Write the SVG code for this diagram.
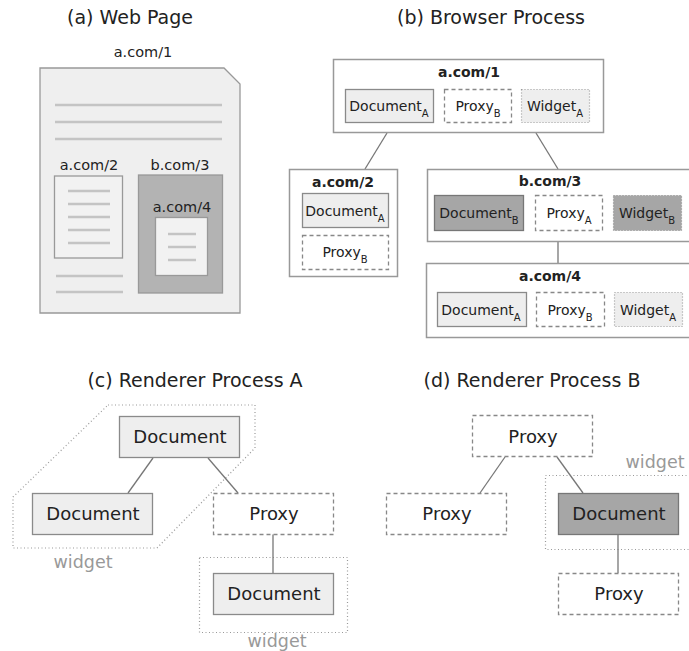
<svg xmlns="http://www.w3.org/2000/svg" width="689" height="651" viewBox="0 0 689 651">
<style>
text{font-family:"DejaVu Sans","Liberation Sans",sans-serif;fill:#222}
.title{font-size:19px;text-anchor:middle}
.lbl{font-size:14.5px;text-anchor:middle}
.bold{font-size:14px;font-weight:bold;text-anchor:middle}
.sm{font-size:14px;text-anchor:middle}
.sub{font-size:10px}
.big{font-size:18px;text-anchor:middle}
.wg{font-size:17.5px;fill:#999;text-anchor:middle}
.cont{fill:#fff;stroke:#999;stroke-width:1.5}
.doc{fill:#eeeeee;stroke:#8a8a8a;stroke-width:1.3}
.docd{fill:#a6a6a6;stroke:#777;stroke-width:1.3}
.proxy{fill:#fff;stroke:#888;stroke-width:1.3;stroke-dasharray:4,3}
.wid{fill:#eeeeee;stroke:#999;stroke-width:1.2;stroke-dasharray:1,2}
.widd{fill:#a6a6a6;stroke:#888;stroke-width:1.2;stroke-dasharray:1,2}
.wgrp{fill:none;stroke:#999;stroke-width:1.2;stroke-dasharray:1,2.5}
.tl{stroke:#c4c4c4;stroke-width:2.5}
.conn line{stroke:#777;stroke-width:1.3}
</style>

<!-- (a) Web Page -->
<g id="panel-a">
<text class="title" x="130" y="24">(a) Web Page</text>
<text class="lbl" x="143" y="57">a.com/1</text>
<path d="M40,68 H224 L240,84 V313 H40 Z" fill="#efefef" stroke="#999" stroke-width="1.3"/>
<line class="tl" x1="55" y1="105" x2="222" y2="105"/>
<line class="tl" x1="55" y1="122" x2="222" y2="122"/>
<line class="tl" x1="55" y1="139" x2="222" y2="139"/>
<text class="lbl" x="89" y="170">a.com/2</text>
<text class="lbl" x="180" y="170">b.com/3</text>
<rect x="54.5" y="176" width="68" height="82" fill="#f2f2f2" stroke="#999" stroke-width="1.3"/>
<line class="tl" x1="68" y1="191" x2="110" y2="191"/>
<line class="tl" x1="68" y1="204" x2="110" y2="204"/>
<line class="tl" x1="68" y1="217" x2="110" y2="217"/>
<line class="tl" x1="68" y1="230" x2="110" y2="230"/>
<line class="tl" x1="68" y1="243" x2="110" y2="243"/>
<line class="tl" x1="56" y1="276" x2="123" y2="276"/>
<line class="tl" x1="56" y1="292" x2="123" y2="292"/>
<rect x="138.5" y="175" width="84" height="118" fill="#b3b3b3" stroke="#999" stroke-width="1.3"/>
<text class="lbl" x="182" y="212">a.com/4</text>
<rect x="155.5" y="217.5" width="52" height="58" fill="#f2f2f2" stroke="#999" stroke-width="1.3"/>
<line class="tl" x1="168" y1="234" x2="196" y2="234"/>
<line class="tl" x1="168" y1="247" x2="196" y2="247"/>
<line class="tl" x1="168" y1="260" x2="196" y2="260"/>
</g>

<!-- (b) Browser Process -->
<text class="title" x="491" y="24">(b) Browser Process</text>
<g class="conn" id="connectors-b">
<line x1="387" y1="133" x2="365" y2="169"/>
<line x1="536" y1="133" x2="558" y2="169"/>
<line x1="558" y1="242" x2="558" y2="263"/>
</g>
<g id="b-a1">
<rect class="cont" x="333.5" y="59.5" width="270" height="73"/>
<text class="bold" x="469" y="77">a.com/1</text>
<rect class="doc" x="345.5" y="89.5" width="88" height="33"/>
<text class="sm" x="389" y="111">Document<tspan class="sub" dy="6">A</tspan></text>
<rect class="proxy" x="444.5" y="89.5" width="67" height="33"/>
<text class="sm" x="478" y="111">Proxy<tspan class="sub" dy="6">B</tspan></text>
<rect class="wid" x="521.5" y="89.5" width="68" height="33"/>
<text class="sm" x="555" y="111">Widget<tspan class="sub" dy="6">A</tspan></text>
</g>
<g id="b-a2">
<rect class="cont" x="289.5" y="169.5" width="108" height="107"/>
<text class="bold" x="343" y="187">a.com/2</text>
<rect class="doc" x="302.5" y="193.5" width="86" height="34"/>
<text class="sm" x="345" y="216">Document<tspan class="sub" dy="6">A</tspan></text>
<rect class="proxy" x="302.5" y="235.5" width="86" height="34"/>
<text class="sm" x="345" y="257">Proxy<tspan class="sub" dy="6">B</tspan></text>
</g>
<g id="b-b3">
<rect class="cont" x="427.5" y="169.5" width="270" height="72"/>
<text class="bold" x="550" y="186">b.com/3</text>
<rect class="docd" x="434.5" y="195.5" width="89" height="35"/>
<text class="sm" x="479" y="218">Document<tspan class="sub" dy="6">B</tspan></text>
<rect class="proxy" x="535.5" y="195.5" width="67" height="35"/>
<text class="sm" x="569" y="218">Proxy<tspan class="sub" dy="6">A</tspan></text>
<rect class="widd" x="613.5" y="195.5" width="68" height="35"/>
<text class="sm" x="647" y="218">Widget<tspan class="sub" dy="6">B</tspan></text>
</g>
<g id="b-a4">
<rect class="cont" x="426.5" y="263.5" width="270" height="74"/>
<text class="bold" x="550" y="281">a.com/4</text>
<rect class="doc" x="437.5" y="292.5" width="89" height="34"/>
<text class="sm" x="481" y="315">Document<tspan class="sub" dy="6">A</tspan></text>
<rect class="proxy" x="536.5" y="292.5" width="68" height="34"/>
<text class="sm" x="570" y="315">Proxy<tspan class="sub" dy="6">B</tspan></text>
<rect class="wid" x="614.5" y="292.5" width="68" height="34"/>
<text class="sm" x="648" y="315">Widget<tspan class="sub" dy="6">A</tspan></text>
</g>

<!-- (c) Renderer Process A -->
<text class="title" x="195" y="387">(c) Renderer Process A</text>
<g id="c-widget1">
<path class="wgrp" d="M108,405 H255 V448 L157,548 H13 V497 Z"/>
<text class="wg" x="83" y="568">widget</text>
</g>
<g id="c-widget2">
<rect class="wgrp" x="199.5" y="557.5" width="148" height="75"/>
<text class="wg" x="277" y="647">widget</text>
</g>
<g class="conn" id="connectors-c">
<line x1="153" y1="458" x2="128" y2="493"/>
<line x1="208" y1="458" x2="238" y2="493"/>
<line x1="273" y1="534" x2="273" y2="573"/>
</g>
<g id="c-doc-top"><rect class="doc" x="119.5" y="416.5" width="120" height="41"/><text class="big" x="180" y="443">Document</text></g>
<g id="c-doc-left"><rect class="doc" x="32.5" y="493.5" width="120" height="41"/><text class="big" x="93" y="520">Document</text></g>
<g id="c-proxy"><rect class="proxy" x="213.5" y="493.5" width="120" height="41"/><text class="big" x="274" y="520">Proxy</text></g>
<g id="c-doc-bottom"><rect class="doc" x="213.5" y="573.5" width="120" height="41"/><text class="big" x="274" y="600">Document</text></g>

<!-- (d) Renderer Process B -->
<text class="title" x="532" y="387">(d) Renderer Process B</text>
<g id="d-widget">
<rect class="wgrp" x="545.5" y="475.5" width="150" height="74"/>
<text class="wg" x="655" y="468">widget</text>
</g>
<g class="conn" id="connectors-d">
<line x1="505" y1="457" x2="480" y2="493"/>
<line x1="557" y1="457" x2="583" y2="493"/>
<line x1="618" y1="534" x2="618" y2="573"/>
</g>
<g id="d-proxy-top"><rect class="proxy" x="472.5" y="415.5" width="120" height="41"/><text class="big" x="533" y="443">Proxy</text></g>
<g id="d-proxy-left"><rect class="proxy" x="386.5" y="493.5" width="120" height="41"/><text class="big" x="447" y="520">Proxy</text></g>
<g id="d-doc"><rect class="docd" x="558.5" y="493.5" width="120" height="41"/><text class="big" x="619" y="520">Document</text></g>
<g id="d-proxy-bottom"><rect class="proxy" x="558.5" y="573.5" width="120" height="41"/><text class="big" x="619" y="600">Proxy</text></g>
</svg>
